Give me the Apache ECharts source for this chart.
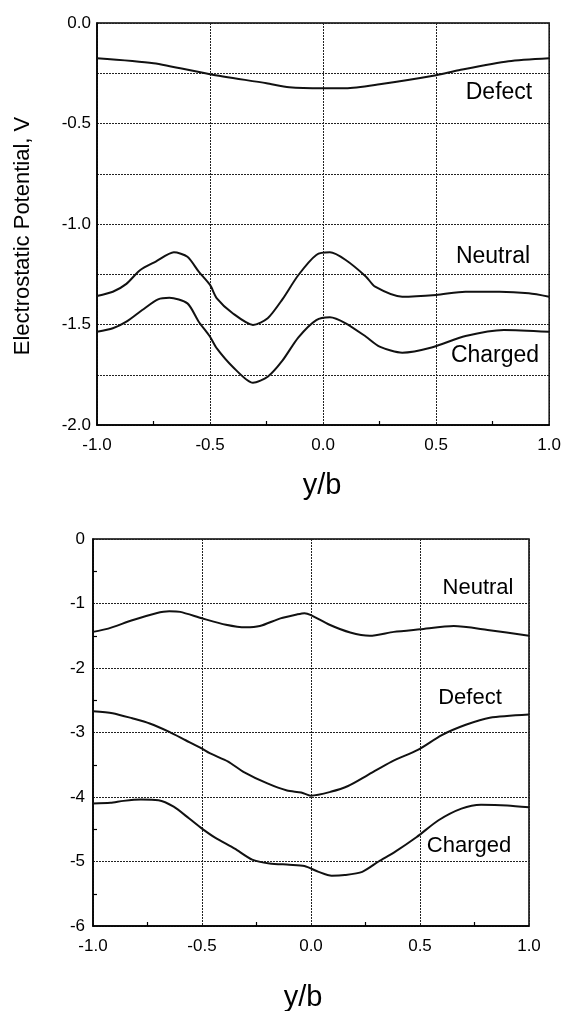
<!DOCTYPE html>
<html>
<head>
<meta charset="utf-8">
<script src="https://cdn.jsdelivr.net/npm/echarts@6/dist/echarts.min.js"></script>
<style>html,body{margin:0;padding:0;background:#fff;}#c{width:564px;height:1011px;}</style>
</head>
<body>
<div id="c"></div>
<script>
// ---- Top panel data ----
const topDefectX = [-1, -0.75, -0.5, -0.25, -0.15, 0, 0.1, 0.25, 0.5, 0.6, 0.82, 1];
const topDefectY = [-0.175, -0.2, -0.255, -0.3, -0.32, -0.325, -0.325, -0.305, -0.26, -0.235, -0.19, -0.175];
const topNeutralX = [-1, -0.93, -0.87, -0.81, -0.74, -0.66, -0.6, -0.55, -0.5, -0.47, -0.4, -0.31, -0.245, -0.18, -0.11, -0.03, 0.03, 0.1, 0.19, 0.23, 0.35, 0.5, 0.63, 0.78, 0.91, 1.0];
const topNeutralY = [-1.358, -1.337, -1.298, -1.23, -1.187, -1.141, -1.163, -1.237, -1.303, -1.37, -1.444, -1.502, -1.469, -1.375, -1.255, -1.154, -1.141, -1.179, -1.262, -1.312, -1.362, -1.353, -1.337, -1.337, -1.345, -1.362];
const topChargedX = [-1, -0.93, -0.87, -0.8, -0.73, -0.68, -0.6, -0.55, -0.5, -0.47, -0.4, -0.31, -0.245, -0.18, -0.11, -0.03, 0.03, 0.1, 0.19, 0.25, 0.35, 0.48, 0.63, 0.8, 1.0];
const topChargedY = [-1.536, -1.519, -1.486, -1.428, -1.375, -1.367, -1.395, -1.486, -1.561, -1.619, -1.71, -1.79, -1.76, -1.68, -1.565, -1.478, -1.464, -1.494, -1.561, -1.61, -1.64, -1.614, -1.557, -1.527, -1.536];

// ---- Bottom panel data ----
const botNeutralX = [-1, -0.93, -0.82, -0.71, -0.65, -0.6, -0.5, -0.39, -0.3, -0.235, -0.14, -0.065, -0.03, 0, 0.085, 0.18, 0.27, 0.38, 0.5, 0.655, 0.81, 1.0];
const botNeutralY = [-1.44, -1.39, -1.26, -1.15, -1.12, -1.13, -1.23, -1.33, -1.37, -1.35, -1.23, -1.17, -1.15, -1.18, -1.33, -1.45, -1.5, -1.44, -1.4, -1.35, -1.41, -1.5];
const botDefectX = [-1, -0.91, -0.82, -0.74, -0.65, -0.575, -0.5, -0.465, -0.38, -0.31, -0.2, -0.11, -0.045, 0, 0.09, 0.17, 0.26, 0.37, 0.49, 0.6, 0.71, 0.82, 1.0];
const botDefectY = [-2.67, -2.70, -2.78, -2.86, -2.99, -3.12, -3.25, -3.32, -3.45, -3.61, -3.79, -3.9, -3.93, -3.98, -3.92, -3.83, -3.66, -3.45, -3.27, -3.04, -2.88, -2.77, -2.72];
const botChargedX = [-1, -0.92, -0.86, -0.78, -0.7, -0.63, -0.56, -0.5, -0.44, -0.35, -0.27, -0.19, -0.1, -0.03, 0.035, 0.095, 0.155, 0.235, 0.31, 0.385, 0.485, 0.585, 0.69, 0.78, 0.9, 1.0];
const botChargedY = [-4.1, -4.09, -4.06, -4.04, -4.05, -4.15, -4.33, -4.49, -4.63, -4.8, -4.97, -5.03, -5.05, -5.07, -5.16, -5.22, -5.21, -5.16, -5.0, -4.85, -4.62, -4.36, -4.18, -4.12, -4.13, -4.16];

// ---- Labels ----
const yTitle = 'Electrostatic Potential, V';
const xTitle = 'y/b';
const topCurveLabels = ['Defect', 'Neutral', 'Charged'];
const botCurveLabels = ['Neutral', 'Defect', 'Charged'];

const FONT = '"Liberation Sans", Arial, sans-serif';
const pairs = (xs, ys) => xs.map((x, i) => [x, ys[i]]);

const gridLine = { show: true, lineStyle: { color: '#222', width: 1, type: [2, 1] } };
const axisLine = { show: true, onZero: false, lineStyle: { color: '#000', width: 1.5 } };
const lbl = { fontFamily: FONT, fontSize: 17, color: '#000' };
const minor = { show: true, splitNumber: 2, length: 4, lineStyle: { color: '#000', width: 1.2 } };

function xAx(gi) {
  return {
    gridIndex: gi, type: 'value', min: -1, max: 1, interval: 0.5,
    axisLine: axisLine, axisTick: { show: false, inside: true },
    minorTick: minor,
    minorSplitLine: { show: false },
    splitLine: gridLine,
    axisLabel: Object.assign({ margin: 12, formatter: v => v.toFixed(1) }, lbl)
  };
}

function line(xs, ys, xi, yi) {
  return {
    type: 'line', xAxisIndex: xi, yAxisIndex: yi, data: pairs(xs, ys),
    showSymbol: false, smooth: 0.25,
    lineStyle: { color: '#111', width: 2 }
  };
}

const chart = echarts.init(document.getElementById('c'), null, { renderer: 'canvas' });
chart.setOption({
  backgroundColor: '#fff',
  animation: false,
  grid: [
    { left: 97, top: 23, width: 454, height: 402, show: true, borderColor: '#000', borderWidth: 1.5 },
    { left: 93, top: 539, width: 436, height: 387, show: true, borderColor: '#000', borderWidth: 1.5 }
  ],
  xAxis: [xAx(0), xAx(1)],
  yAxis: [
    {
      gridIndex: 0, type: 'value', min: -2, max: 0, interval: 0.25,
      axisLine: axisLine, axisTick: { show: false },
      splitLine: gridLine,
      axisLabel: Object.assign({ margin: 6, formatter: v => (Math.round(v * 4) % 2 === 0 ? v.toFixed(1) : '') }, lbl)
    },
    {
      gridIndex: 1, type: 'value', min: -6, max: 0, interval: 1,
      axisLine: axisLine, axisTick: { show: false, inside: true },
      minorTick: minor,
      splitLine: gridLine,
      axisLabel: Object.assign({ margin: 8, formatter: v => String(v) }, lbl)
    }
  ],
  series: [
    line(topDefectX, topDefectY, 0, 0),
    line(topNeutralX, topNeutralY, 0, 0),
    line(topChargedX, topChargedY, 0, 0),
    line(botNeutralX, botNeutralY, 1, 1),
    line(botDefectX, botDefectY, 1, 1),
    line(botChargedX, botChargedY, 1, 1)
  ],
  graphic: [
    { type: 'text', x: 23, y: 236, rotation: Math.PI / 2,
      style: { text: yTitle, font: '22px ' + FONT, fill: '#000', textAlign: 'center', textVerticalAlign: 'middle' } },
    { type: 'text', x: 322, y: 486,
      style: { text: xTitle, font: '29px ' + FONT, fill: '#000', textAlign: 'center', textVerticalAlign: 'middle' } },
    { type: 'text', x: 303, y: 998,
      style: { text: xTitle, font: '29px ' + FONT, fill: '#000', textAlign: 'center', textVerticalAlign: 'middle' } },
    { type: 'text', x: 499, y: 93, style: { text: topCurveLabels[0], font: '23px ' + FONT, fill: '#000', textAlign: 'center', textVerticalAlign: 'middle', backgroundColor: '#fff' } },
    { type: 'text', x: 493, y: 257, style: { text: topCurveLabels[1], font: '23px ' + FONT, fill: '#000', textAlign: 'center', textVerticalAlign: 'middle' } },
    { type: 'text', x: 495, y: 356, style: { text: topCurveLabels[2], font: '23px ' + FONT, fill: '#000', textAlign: 'center', textVerticalAlign: 'middle', backgroundColor: '#fff' } },
    { type: 'text', x: 478, y: 588, style: { text: botCurveLabels[0], font: '22px ' + FONT, fill: '#000', textAlign: 'center', textVerticalAlign: 'middle' } },
    { type: 'text', x: 470, y: 698, style: { text: botCurveLabels[1], font: '22px ' + FONT, fill: '#000', textAlign: 'center', textVerticalAlign: 'middle' } },
    { type: 'text', x: 469, y: 846, style: { text: botCurveLabels[2], font: '22px ' + FONT, fill: '#000', textAlign: 'center', textVerticalAlign: 'middle', backgroundColor: '#fff' } }
  ]
});
</script>
</body>
</html>
